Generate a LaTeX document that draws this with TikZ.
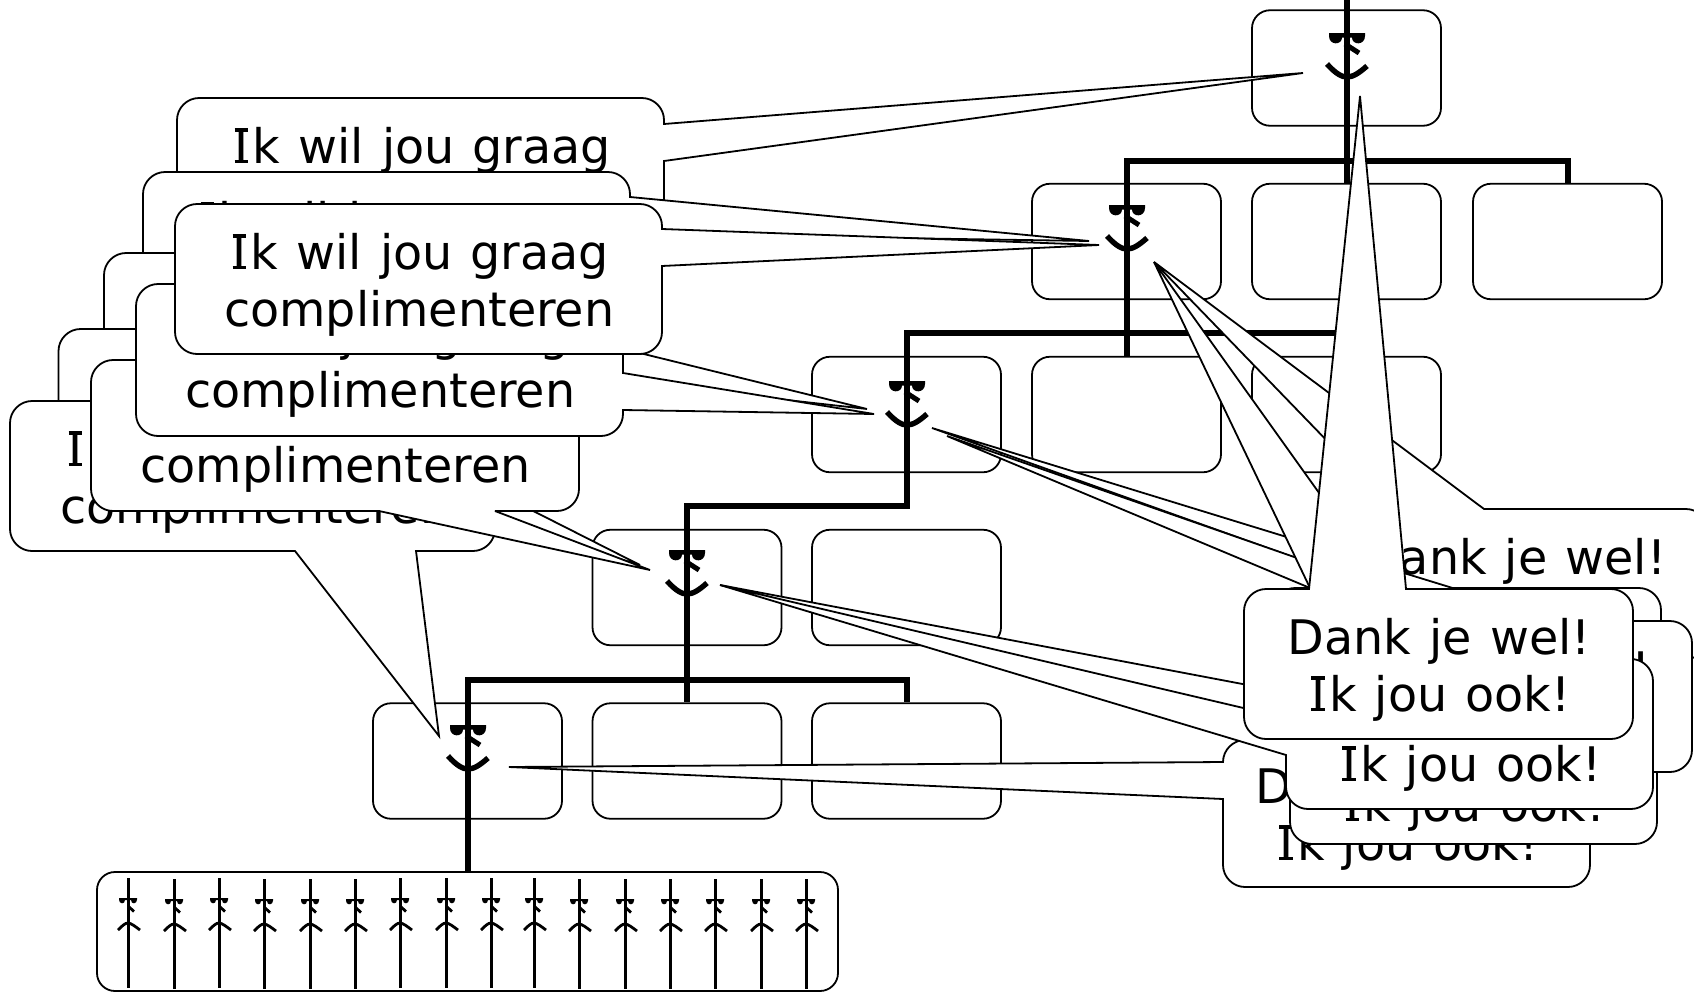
\documentclass[tikz,border=0pt]{standalone}
\usepackage{fontspec}
\setmainfont[WordSpace=1.2]{DejaVu Sans}
\tikzset{
  orgbox/.style={draw=black,line width=1.8bp,rounded corners=18bp,inner sep=0pt,fill=none},
  orgline/.style={draw=black,line width=6bp,line cap=butt,line join=miter},
  balloonpath/.style={draw=black,fill=white,line width=1.8bp,miter limit=4},
  baltext/.style={inner sep=0pt,align=center,xshift=.7bp,yshift=-5.5bp,font=\fontsize{47.8}{57.2}\selectfont,text=black},
  bigface/.pic={
    \fill[black] (-18,0)--(18,0)--(18,3) .. controls (18,12.5) and (5,12.5) .. (5,4.5) -- (-5,4.5) .. controls (-5,12.5) and (-18,12.5) .. (-18,3) -- cycle;
    \draw[black,line width=5bp] (-2,11) -- (12,20);
    \draw[black,line width=5.4bp] (-20,31) .. controls (-11,41) and (-5,44) .. (0,44) .. controls (6,44) and (12,40) .. (20,33);
  },
  smallface/.pic={
    \draw[black,line width=3bp] (0,-20) -- (0,90);
    \fill[black] (-9,0)--(9,0)--(9,1.5) .. controls (9,6.5) and (3,6.5) .. (3,2) -- (-3,2) .. controls (-3,6.5) and (-9,6.5) .. (-9,1.5) -- cycle;
    \draw[black,line width=2.8bp] (0,8) -- (6,13.5);
    \draw[black,line width=2.8bp] (-10,32) .. controls (-6,28) and (-3,25) .. (0,25) .. controls (3,25) and (8,29) .. (12,32);
  }
}
% \balloon{L}{T}{R}{B}{top}{right}{bottom}{left}
\newcommand\balloon[8]{%
  \path[balloonpath] (#1+22,#2) #5 -- (#3-22,#2)
    .. controls (#3-10,#2) and (#3,#2+10) .. (#3,#2+22) #6 -- (#3,#4-22)
    .. controls (#3,#4-10) and (#3-10,#4) .. (#3-22,#4) #7 -- (#1+22,#4)
    .. controls (#1+10,#4) and (#1,#4-10) .. (#1,#4-22) #8 -- (#1,#2+22)
    .. controls (#1,#2+10) and (#1+10,#2) .. (#1+22,#2) -- cycle;
}
% capital I with bars, as the reference's typeface draws it
\newcommand\barI{\hbox to .45em{\hss
  \rlap{\kern-.01em\hbox to 0pt{\hss\rule{.29em}{.07em}\hss}}%
  \rlap{\kern-.01em\hbox to 0pt{\hss\rule[.659em]{.29em}{.07em}\hss}}%
  \hbox to 0pt{\hss I\hss}\hss}}
\newcommand\ikwil{\barI k wil jou graag\\complimenteren}
\newcommand\dank{Dank je wel!\\\barI k jou ook!}
\begin{document}
\begin{tikzpicture}[x=1bp,y=-1bp]
\useasboundingbox (0,0) rectangle (1694,992);
\fill[white] (0,0) rectangle (1694,992);
\clip (0,0) rectangle (1694,992);
% organisation boxes
\foreach \n/\cx/\cy in {rA/1346.5/68, b1/1126.5/241.5, b2/1346.5/241.5, b3/1567.5/241.5,
  c1/906.5/414.5, c2/1126.5/414.5, c3/1346.5/414.5, d1/687/587.5, d2/906.5/587.5,
  e1/467.5/761, e2/687/761, e3/906.5/761}
  \node[orgbox,minimum width=189bp,minimum height=115.5bp] (\n) at (\cx,\cy) {};
\node[orgbox,minimum width=741bp,minimum height=119bp] (staff) at (467.5,931.5) {};
% connector levels
\coordinate (in) at (1346.5,0);
\coordinate (h1) at (0,161);
\coordinate (h2) at (0,333);
\coordinate (h3) at (0,506);
\coordinate (h4) at (0,680);
\draw[orgline] (in) -- (rA.north) -- (rA.south) -- (b2.north);
\draw[orgline] (b1.north) -- (b1.north |- h1) -- (b3.north |- h1) -- (b3.north);
\draw[orgline] (b1.north) -- (b1.south) -- (c2.north);
\draw[orgline] (c1.north) -- (c1.north |- h2) -- (c3.north |- h2) -- (c3.north);
\draw[orgline] (c1.north) -- (c1.south) -- (c1.south |- h3) -- (d1.north |- h3) -- (d1.north) -- (d1.south) -- (e2.north);
\draw[orgline] (e1.north) -- (e1.north |- h4) -- (e3.north |- h4) -- (e3.north);
\draw[orgline] (e1.north) -- (e1.south) -- (staff.north);
% persons
\pic at (1347,33) {bigface};
\pic at (1127,205) {bigface};
\pic at (907,381) {bigface};
\pic at (687,550) {bigface};
\pic at (468,725) {bigface};
\foreach \x/\y in {128/898,174/899,219/898,264/899,310/899,355/899,400/898,446/898,491/898,534/898,579/899,625/899,670/899,715/899,761/899,806/899}
  \pic at (\x,\y) {smallface};
% left speech balloons
\balloon{177}{98}{664}{248}{}{-- (664,124) -- (1303,73) -- (664,161)}{}{}
\node[baltext] (tA) at (420.5,173) {\ikwil};
\balloon{143}{172}{630}{322}{}{-- (630,197) -- (1089,241) -- (630,234)}{}{}
\node[baltext] (tB) at (386.5,247) {\ikwil};
\balloon{104}{253}{591}{403}{}{-- (591,341) -- (867,409) -- (591,378)}{}{}
\node[baltext] (tD) at (347.5,328) {\ikwil};
\balloon{58.5}{329}{546}{479}{}{}{-- (470,479) -- (640,565) -- (350,479)}{}
\node[baltext] (tF) at (302,404) {\ikwil};
\balloon{10}{401}{495}{551}{}{}{-- (416,551) -- (439,736) -- (295,551)}{}
\node[baltext] (tH) at (254.5,476) {\ikwil};
\balloon{91}{360}{579}{511}{}{}{-- (495,511) -- (650,570) -- (379,511)}{}
\node[baltext] (tG) at (335,435.5) {\ikwil};
\balloon{136}{284}{623}{436}{}{-- (623,373) -- (874,414) -- (623,410)}{}{}
\node[baltext] (tE) at (379.5,360) {\ikwil};
\balloon{175}{204}{662}{354}{}{-- (662,229) -- (1099,245) -- (662,266)}{}{}
\node[baltext] (tC) at (418.5,279) {\ikwil};
% right speech balloons
\balloon{1320}{509}{1708}{659}{-- (1393,509) -- (1154,262) -- (1484,509)}{}{}{}
\node[baltext] (tR2) at (1514,584) {\dank};
\balloon{1223}{740}{1590}{887}{}{}{}{-- (1223,799) -- (509,767) -- (1223,762)}
\node[baltext] (tT) at (1406.5,813) {\dank};
\balloon{1273}{588}{1661}{738}{}{}{}{}
\node[baltext] (tR3) at (1467,663) {\dank};
\balloon{1290}{695}{1657}{844}{}{}{}{-- (1290,725) -- (720,585) -- (1290,693)}
\node[baltext] (tQ) at (1473,774) {\dank};
\balloon{1304}{621}{1692}{772}{-- (1472,621) -- (932,428) -- (1560,621)}{}{}{}
\node[baltext] (tS) at (1498,696.5) {\dank};
\balloon{1286}{659}{1653}{809}{}{}{}{-- (1286,755) -- (720,585) -- (1286,718)}
\node[baltext] (tP) at (1469.5,734) {\dank};
% wedges of the balloons that lie behind the front one
\path[balloonpath] (947,436) -- (1310,588) -- (1386,589) -- cycle;
\path[balloonpath] (1154,262) -- (1310,588) -- (1387,588) -- cycle;
% front balloon
\balloon{1244}{589}{1633}{739}{-- (1309,589) -- (1360,96) -- (1406,589)}{}{}{}
\node[baltext] (tR1) at (1438.5,664) {\dank};
\end{tikzpicture}
\end{document}
